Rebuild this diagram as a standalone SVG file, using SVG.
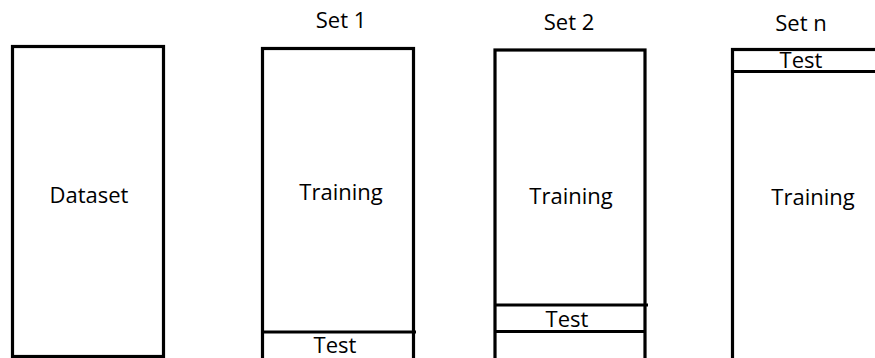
<svg xmlns="http://www.w3.org/2000/svg" width="875" height="358" viewBox="0 0 875 358">
<style>
.box{fill:#fff;stroke:#000;stroke-width:3.2}
.div{stroke:#000;stroke-width:3.2}
.t{font-family:"Open Sans","Liberation Sans",sans-serif;font-size:22px;fill:#000;text-anchor:middle}
</style>
<rect width="875" height="358" fill="#fff"/>
<g id="dataset">
<rect class="box" x="12.5" y="46.5" width="151" height="310"/>
<text class="t" x="89" y="203">Dataset</text>
</g>
<g id="set1">
<text class="t" x="341" y="28">Set 1</text>
<rect class="box" x="262.5" y="48.5" width="151" height="312"/>
<line class="div" x1="262.5" y1="332" x2="416" y2="332"/>
<text class="t" x="341" y="200">Training</text>
<text class="t" x="335" y="353">Test</text>
</g>
<g id="set2">
<text class="t" x="569" y="30">Set 2</text>
<rect class="box" x="495" y="50" width="150" height="312"/>
<line class="div" x1="495" y1="305" x2="648" y2="305"/>
<line class="div" x1="495" y1="331.5" x2="645" y2="331.5"/>
<text class="t" x="571" y="204">Training</text>
<text class="t" x="567" y="327">Test</text>
</g>
<g id="setn">
<text class="t" x="801" y="31">Set n</text>
<rect class="box" x="732.5" y="49.5" width="150" height="312"/>
<line class="div" x1="732.5" y1="71.5" x2="880" y2="71.5"/>
<text class="t" x="801" y="68">Test</text>
<text class="t" x="813" y="205">Training</text>
</g>
</svg>
